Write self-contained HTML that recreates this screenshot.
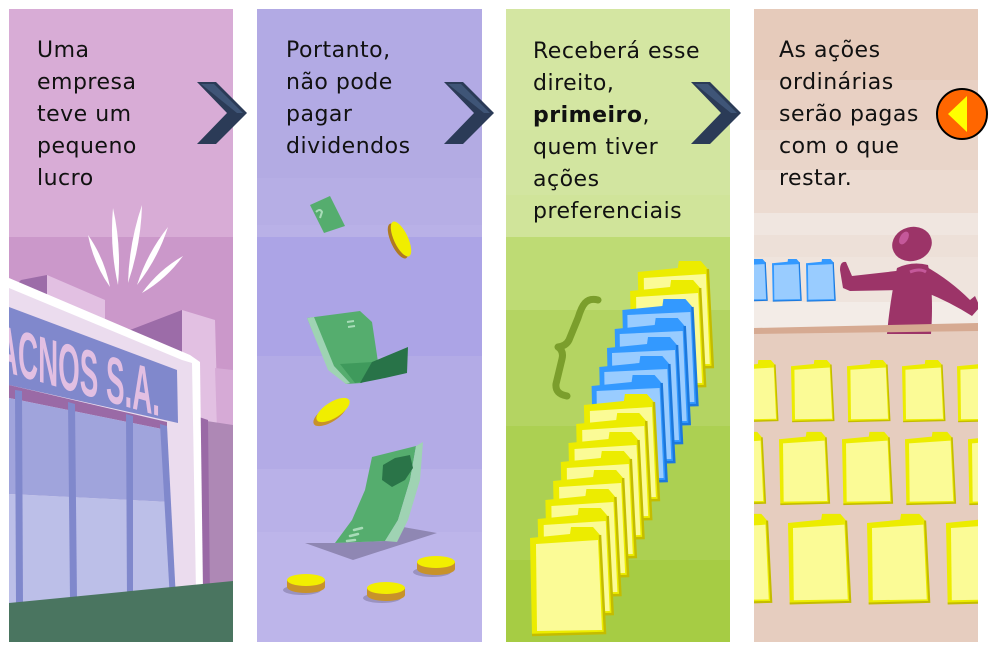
<!DOCTYPE html>
<html><head><meta charset="utf-8">
<style>
html,body{margin:0;padding:0;background:#fff;}
svg{display:block;}
.t{font-family:"DejaVu Sans","Liberation Sans",sans-serif;font-size:22px;letter-spacing:0.5px;fill:#111;}
</style></head>
<body>
<svg width="1003" height="650" viewBox="0 0 1003 650" xmlns="http://www.w3.org/2000/svg">
<defs>
<clipPath id="c1"><rect x="9" y="9" width="224" height="633"/></clipPath>
<clipPath id="c2"><rect x="257" y="9" width="225" height="633"/></clipPath>
<clipPath id="c3"><rect x="506" y="9" width="224" height="633"/></clipPath>
<clipPath id="c4"><rect x="754" y="9" width="224" height="633"/></clipPath>
<g id="fy">
<path d="M0,0 L40,-4 L41,-11 L63,-11 L70,-3 L75,95 L2,97 Z" fill="#ecec00"/>
<path d="M6,6 L68,2 L72,92 L7,93 Z" fill="#fbfb96"/>
<path d="M70,-3 L75,95 L2,97" fill="none" stroke="#c4bc00" stroke-width="2.5"/>
</g>
<g id="fb">
<path d="M0,0 L40,-4 L41,-11 L63,-11 L70,-3 L75,95 L2,97 Z" fill="#3399ff"/>
<path d="M5,5 L68,2 L72,92 L6,93 Z" fill="#99ccff"/>
<path d="M70,-3 L75,95 L2,97" fill="none" stroke="#1c78dc" stroke-width="2.5"/>
</g>
</defs>

<!-- PANEL 1 -->
<g clip-path="url(#c1)">
<rect x="9" y="9" width="224" height="228" fill="#d8acd6"/>
<rect x="9" y="237" width="224" height="405" fill="#cb98ca"/>
<g fill="#ffffff">
<path d="M110,287 Q104.5,258.6 88,235 Q93.5,263.4 110,287Z"/>
<path d="M118,285 Q121.5,246.1 113,208 Q109.5,246.9 118,285Z"/>
<path d="M128,283 Q140.9,245.1 142,205 Q129.1,242.9 128,283Z"/>
<path d="M137,285 Q157.8,258.8 168,227 Q147.2,253.2 137,285Z"/>
<path d="M142,293 Q166.5,278.9 183,256 Q158.5,270.1 142,293Z"/>
</g>
<polygon points="9,292 21,280 47,275 47,310 9,310" fill="#9c6ca8"/>
<polygon points="47,275 105,300 105,400 47,400" fill="#e2c0e2"/>
<polygon points="105,300 130,330 182,310 182,400 105,400" fill="#cb98ca"/>
<polygon points="130,330 182,310 182,400 130,400" fill="#9c6ca8"/>
<polygon points="182,310 215,320 218,430 182,430" fill="#e2c0e2"/>
<polygon points="215,368 233,370 233,430 217,430" fill="#d6aad6"/>
<polygon points="200,420 233,425 233,600 200,600" fill="#ae88b5"/>
<polygon points="193,415 208,420 210,600 196,600" fill="#9a6aa6"/>
<polygon points="9,278 190,355 200,362 203,592 9,600" fill="#ffffff"/>
<polygon points="9,288 182,360 192,363 196,592 9,600" fill="#ebdcee"/>
<polygon points="9,307 177,370 178,423 9,385" fill="#8088cc"/>
<text x="-2" y="370.5" transform="skewY(16)" font-family="'Liberation Sans Narrow','Liberation Sans',sans-serif" font-weight="bold" font-size="66" fill="#e2bfe2" textLength="162" lengthAdjust="spacingAndGlyphs">ACNOS S.A.</text>
<polygon points="9,385 167,422 167,430 9,398" fill="#9a6aa6"/>
<polygon points="9,398 167,430 170,502 9,494" fill="#a0a4dc"/>
<polygon points="9,494 170,502 176,600 9,606" fill="#bcbfe8"/>
<g fill="#8088cc">
<polygon points="15,390 22,391 23,605 16,605"/>
<polygon points="68,402 75,404 77,600 70,600"/>
<polygon points="126,414 133,416 133,600 127,600"/>
<polygon points="160,424 167,426 176,600 170,600"/>
</g>
<polygon points="9,603 233,581 233,642 9,642" fill="#4a7560"/>
</g>

<!-- PANEL 2 -->
<g clip-path="url(#c2)">
<rect x="257" y="9" width="225" height="121" fill="#b2aae4"/>
<rect x="257" y="130" width="225" height="48" fill="#b3abe3"/>
<rect x="257" y="178" width="225" height="47" fill="#b6aee5"/>
<rect x="257" y="225" width="225" height="12" fill="#b9b1e7"/>
<rect x="257" y="237" width="225" height="119" fill="#aca4e6"/>
<rect x="257" y="356" width="225" height="113" fill="#b3abe6"/>
<rect x="257" y="469" width="225" height="63" fill="#b9b1e8"/>
<rect x="257" y="532" width="225" height="110" fill="#bdb5ea"/>
<!-- small bill -->
<polygon points="310,205 330,196 345,226 324,233" fill="#55ad6e"/>
<path d="M316,212 Q320,208 322,212 L320,218" stroke="#a8dcb8" stroke-width="2" fill="none"/>
<!-- falling coin 1 -->
<ellipse cx="398" cy="241" rx="7" ry="19" transform="rotate(-25 398 241)" fill="#b07a20"/>
<ellipse cx="401" cy="239" rx="7" ry="19" transform="rotate(-25 401 239)" fill="#f0ee00"/>
<!-- bill 1 -->
<polygon points="307,318 360,311 372,322 378,362 362,383 346,384 328,368" fill="#55ad6e"/>
<polygon points="307,318 314,317 334,366 350,383 346,384 328,370" fill="#9fd3b3"/>
<polygon points="340,364 373,362 372,380 355,383" fill="#3f9a5c"/>
<polygon points="372,362 408,347 407,373 385,378 360,383" fill="#287348"/>
<path d="M347,322 l7,-1 M348,327 l7,-1" stroke="#a8dcb8" stroke-width="2"/>
<!-- coin 2 -->
<ellipse cx="330" cy="414" rx="19" ry="8" transform="rotate(-32 330 414)" fill="#c8922a"/>
<ellipse cx="333" cy="410" rx="19" ry="8" transform="rotate(-32 333 410)" fill="#f0ee00"/>
<!-- bill 2 shadow -->
<polygon points="305,543 353,560 437,533 403,527 385,541 335,543" fill="#8f87b3"/>
<polygon points="372,457 416,446 410,480 398,520 385,541 335,543 352,520 365,490" fill="#55ad6e"/>
<polygon points="416,446 423,442 420,480 408,520 397,542 385,541 398,520 410,480" fill="#9fd3b3"/>
<polygon points="383,465 395,458 410,455 413,468 405,480 392,487 382,480" fill="#2a7448"/>
<path d="M354,530 l8,-2 M350,536 l8,-2 M347,541 l8,-1" stroke="#a8dcb8" stroke-width="2.5" stroke-linecap="round"/>
<!-- ground coins -->
<g>
<ellipse cx="302" cy="590" rx="19" ry="5" fill="#9a92c0"/>
<path d="M287,580 L287,587 A19,6 0 0 0 325,587 L325,580 Z" fill="#c8922a"/>
<ellipse cx="306" cy="580" rx="19" ry="6" fill="#f2ee00"/>
<ellipse cx="382" cy="598" rx="19" ry="5" fill="#9a92c0"/>
<path d="M367,588 L367,595 A19,6 0 0 0 405,595 L405,588 Z" fill="#c8922a"/>
<ellipse cx="386" cy="588" rx="19" ry="6" fill="#f2ee00"/>
<ellipse cx="432" cy="572" rx="19" ry="5" fill="#9a92c0"/>
<path d="M417,562 L417,569 A19,6 0 0 0 455,569 L455,562 Z" fill="#c8922a"/>
<ellipse cx="436" cy="562" rx="19" ry="6" fill="#f2ee00"/>
</g>
</g>

<!-- PANEL 3 -->
<g clip-path="url(#c3)">
<rect x="506" y="9" width="224" height="121" fill="#d4e6a2"/>
<rect x="506" y="130" width="224" height="65" fill="#d2e5a0"/>
<rect x="506" y="195" width="224" height="42" fill="#d0e49a"/>
<rect x="506" y="237" width="224" height="73" fill="#bedb74"/>
<rect x="506" y="310" width="224" height="116" fill="#b4d462"/>
<rect x="506" y="426" width="224" height="134" fill="#acd052"/>
<rect x="506" y="560" width="224" height="82" fill="#a6cc44"/>
<path d="M598,300 C586,297 582,305 578,318 L569,340 Q566,346 558,347 Q564,351 562,359 L556,384 Q555,394 567,396" fill="none" stroke="#7b9e2c" stroke-width="7" stroke-linecap="round" stroke-linejoin="round"/>
<use href="#fy" transform="translate(637.8,272)"/>
<use href="#fy" transform="translate(630.1,291)"/>
<use href="#fb" transform="translate(622.4,310)"/>
<use href="#fb" transform="translate(614.7,329)"/>
<use href="#fb" transform="translate(607,348)"/>
<use href="#fb" transform="translate(599.3,367)"/>
<use href="#fb" transform="translate(591.6,386)"/>
<use href="#fy" transform="translate(583.9,405)"/>
<use href="#fy" transform="translate(576.2,424)"/>
<use href="#fy" transform="translate(568.5,443)"/>
<use href="#fy" transform="translate(560.8,462)"/>
<use href="#fy" transform="translate(553.1,481)"/>
<use href="#fy" transform="translate(545.4,500)"/>
<use href="#fy" transform="translate(537.7,519)"/>
<use href="#fy" transform="translate(530,538)"/>
</g>

<!-- PANEL 4 -->
<g clip-path="url(#c4)">
<rect x="754" y="9" width="224" height="71" fill="#e6cbbb"/>
<rect x="754" y="80" width="224" height="50" fill="#e8d0c3"/>
<rect x="754" y="130" width="224" height="40" fill="#e9d5c9"/>
<rect x="754" y="170" width="224" height="43" fill="#ecdbd1"/>
<rect x="754" y="213" width="224" height="22" fill="#f0e6e0"/>
<rect x="754" y="235" width="224" height="22" fill="#ede0d8"/>
<rect x="754" y="257" width="224" height="45" fill="#efe4dd"/>
<rect x="754" y="302" width="224" height="30" fill="#f3ece7"/>
<rect x="754" y="330" width="224" height="312" fill="#e6cdbf"/>
<use href="#fb" transform="translate(738,263.3) scale(0.39)"/>
<use href="#fb" transform="translate(772,263.3) scale(0.39)"/>
<use href="#fb" transform="translate(806,263.3) scale(0.39)"/>
<g fill="#9c3468">
<path d="M897,268 Q912,261 928,265 Q934,292 931,334 L887,334 Q890,300 897,268 Z"/>
<path d="M905,270 L852,276 L846,262 Q840,261 840,270 L843,288 L850,291 L905,290 Z"/>
<path d="M925,266 Q950,280 970,300 L975,296 L980,307 L972,316 Q950,302 925,292 Z"/>
<ellipse cx="912" cy="244" rx="20" ry="17" transform="rotate(-15 912 244)"/>
</g>
<ellipse cx="904" cy="238" rx="4" ry="7" transform="rotate(30 904 238)" fill="#c4589a"/>
<path d="M910,272 Q920,268 926,272" stroke="#c4589a" stroke-width="3" fill="none"/>
<polygon points="754,328 978,323 978,331 754,334" fill="#d6aa92"/>
<use href="#fy" transform="translate(735,366.3) scale(0.57)"/>
<use href="#fy" transform="translate(791,366.3) scale(0.57)"/>
<use href="#fy" transform="translate(847,366.3) scale(0.57)"/>
<use href="#fy" transform="translate(902,366.3) scale(0.57)"/>
<use href="#fy" transform="translate(957,366.3) scale(0.57)"/>
<use href="#fy" transform="translate(715,439.3) scale(0.67)"/>
<use href="#fy" transform="translate(779,439.3) scale(0.67)"/>
<use href="#fy" transform="translate(842,439.3) scale(0.67)"/>
<use href="#fy" transform="translate(905,439.3) scale(0.67)"/>
<use href="#fy" transform="translate(968,439.3) scale(0.67)"/>
<use href="#fy" transform="translate(709,523) scale(0.83)"/>
<use href="#fy" transform="translate(788,523) scale(0.83)"/>
<use href="#fy" transform="translate(867,523) scale(0.83)"/>
<use href="#fy" transform="translate(946,523) scale(0.83)"/>
</g>

<!-- chevrons -->
<g>
<polygon points="197,82 216,82 247,113 216,144 197,144 227,113" fill="#2b3b57"/>
<polygon points="201,84 214,84 243,113 237,113" fill="#3f5577"/>
<polygon points="444,82 463,82 494,113 463,144 444,144 474,113" fill="#2b3b57"/>
<polygon points="448,84 461,84 490,113 484,113" fill="#3f5577"/>
<polygon points="691,82 710,82 741,113 710,144 691,144 721,113" fill="#2b3b57"/>
<polygon points="695,84 708,84 737,113 731,113" fill="#3f5577"/>
</g>

<!-- orange button -->
<circle cx="962" cy="114" r="25" fill="#ff6600" stroke="#000" stroke-width="2"/>
<polygon points="948,114 967,96 967,132" fill="#ffff00"/>

<!-- text -->
<text class="t" x="37" y="57">Uma</text>
<text class="t" x="37" y="89">empresa</text>
<text class="t" x="37" y="121">teve um</text>
<text class="t" x="37" y="153">pequeno</text>
<text class="t" x="37" y="185">lucro</text>

<text class="t" x="286" y="57">Portanto,</text>
<text class="t" x="286" y="89">não pode</text>
<text class="t" x="286" y="121">pagar</text>
<text class="t" x="286" y="153">dividendos</text>

<text class="t" x="533" y="58">Receberá esse</text>
<text class="t" x="533" y="90">direito,</text>
<text class="t" x="533" y="122"><tspan font-weight="bold">primeiro</tspan>,</text>
<text class="t" x="533" y="154">quem tiver</text>
<text class="t" x="533" y="186">ações</text>
<text class="t" x="533" y="218">preferenciais</text>

<text class="t" x="779" y="57">As ações</text>
<text class="t" x="779" y="89">ordinárias</text>
<text class="t" x="779" y="121">serão pagas</text>
<text class="t" x="779" y="153">com o que</text>
<text class="t" x="779" y="185">restar.</text>
</svg>
</body></html>
